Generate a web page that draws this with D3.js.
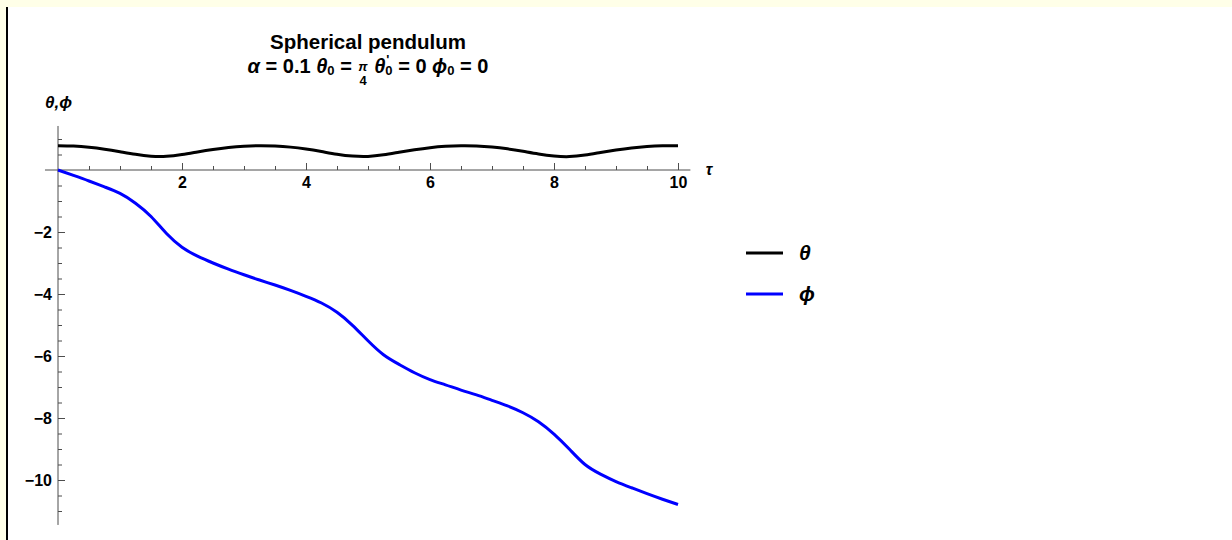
<!DOCTYPE html>
<html>
<head>
<meta charset="utf-8">
<script src="https://cdn.jsdelivr.net/npm/d3@7/dist/d3.min.js"></script>
<style>
  html, body { margin: 0; padding: 0; background: #fff; }
  svg { display: block; }
  text { font-family: "Liberation Sans", Arial, "DejaVu Sans", sans-serif; font-weight: bold; white-space: pre; }
</style>
</head>
<body>
<svg id="chart" width="1232" height="540"></svg>
<script>
// Time samples (tau) and the two angles of the spherical pendulum
const tau = [0, 0.25, 0.5, 0.75, 1, 1.25, 1.5, 1.75, 2, 2.25, 2.5, 2.75, 3, 3.25, 3.5, 3.75,
  4, 4.25, 4.5, 4.75, 5, 5.25, 5.5, 5.75, 6, 6.25, 6.5, 6.75, 7, 7.25, 7.5, 7.75,
  8, 8.25, 8.5, 8.75, 9, 9.25, 9.5, 9.75, 10];
const theta = [0.785, 0.772, 0.735, 0.672, 0.590, 0.505, 0.445, 0.440, 0.497, 0.580, 0.660,
  0.725, 0.768, 0.785, 0.774, 0.738, 0.676, 0.595, 0.510, 0.448, 0.436, 0.490, 0.572,
  0.652, 0.720, 0.765, 0.784, 0.777, 0.742, 0.682, 0.602, 0.517, 0.452, 0.433, 0.483,
  0.565, 0.645, 0.713, 0.760, 0.782, 0.782];
const phi = [0, -0.175, -0.355, -0.545, -0.755, -1.07, -1.50, -2.05, -2.49, -2.78, -3.00,
  -3.20, -3.38, -3.55, -3.71, -3.885, -4.075, -4.29, -4.59, -5.01, -5.51, -5.96, -6.27,
  -6.54, -6.76, -6.93, -7.10, -7.255, -7.43, -7.61, -7.83, -8.12, -8.52, -9.01, -9.50,
  -9.81, -10.05, -10.25, -10.44, -10.62, -10.79];

const xMajor = [2, 4, 6, 8, 10];
const xMinor = [0.5, 1, 1.5, 2.5, 3, 3.5, 4.5, 5, 5.5, 6.5, 7, 7.5, 8.5, 9, 9.5];
const yMajor = [-2, -4, -6, -8, -10];
const yMinor = [1, 0.5, -0.5, -1, -1.5, -2.5, -3, -3.5, -4.5, -5, -5.5, -6.5, -7, -7.5,
  -8.5, -9, -9.5, -10.5, -11];

const seriesNames = ["θ", "ϕ"];
const seriesColors = ["#000000", "#0000ff"];

const svg = d3.select("#chart");
const W = 1232, H = 540;

// notebook cell frame
svg.append("rect").attr("x", 0).attr("y", 0).attr("width", W).attr("height", H).attr("fill", "#ffffff");
svg.append("rect").attr("x", 0).attr("y", 0).attr("width", W).attr("height", 7).attr("fill", "#ffffe8");
svg.append("rect").attr("x", 0).attr("y", 0).attr("width", 6).attr("height", H).attr("fill", "#ffffe8");
svg.append("rect").attr("x", 6).attr("y", 7).attr("width", 2).attr("height", H - 7).attr("fill", "#000");

const x = d3.scaleLinear().domain([0, 10]).range([58, 678]);
const y = d3.scaleLinear().domain([0, -10]).range([170, 480]);

const axisColor = "#4d4d4d";

// axis lines
svg.append("line").attr("x1", x(-0.21)).attr("x2", x(10.2)).attr("y1", y(0)).attr("y2", y(0))
  .attr("stroke", axisColor).attr("stroke-width", 1);
svg.append("line").attr("x1", x(0)).attr("x2", x(0)).attr("y1", y(1.42)).attr("y2", y(-11.45))
  .attr("stroke", axisColor).attr("stroke-width", 1);

function styleAxis(g) {
  g.select(".domain").remove();
  g.selectAll(".tick line").attr("stroke", axisColor);
  g.selectAll(".tick text").attr("fill", "#000").attr("font-size", 16).attr("font-family", null);
}

svg.append("g").attr("transform", `translate(0,${y(0)})`)
  .call(d3.axisBottom(x).tickValues(xMinor).tickSizeInner(-4).tickSizeOuter(0).tickFormat(""))
  .call(styleAxis);
svg.append("g").attr("transform", `translate(0,${y(0)})`)
  .call(d3.axisBottom(x).tickValues(xMajor).tickSizeInner(-7).tickSizeOuter(0).tickPadding(7)
    .tickFormat(d3.format("d")))
  .call(styleAxis);

svg.append("g").attr("transform", `translate(${x(0)},0)`)
  .call(d3.axisLeft(y).tickValues(yMinor).tickSizeInner(-4).tickSizeOuter(0).tickFormat(""))
  .call(styleAxis);
svg.append("g").attr("transform", `translate(${x(0)},0)`)
  .call(d3.axisLeft(y).tickValues(yMajor).tickSizeInner(-7).tickSizeOuter(0).tickPadding(6)
    .tickFormat(d => "\u2212" + Math.abs(d)))
  .call(styleAxis);

// axis labels
svg.append("text").attr("x", 709).attr("y", 175).attr("font-size", 16)
  .attr("font-style", "italic").attr("text-anchor", "middle").text("τ");
svg.append("text").attr("x", 45).attr("y", 108).attr("font-size", 17)
  .attr("font-style", "italic").text("θ,ϕ");

// curves
const line = d3.line().curve(d3.curveNatural);
const series = [theta, phi];
series.forEach((vals, i) => {
  svg.append("path")
    .attr("d", line(tau.map((t, j) => [x(t), y(vals[j])])))
    .attr("fill", "none")
    .attr("stroke", seriesColors[i])
    .attr("stroke-width", 3)
    .attr("stroke-linejoin", "round");
});

// title
const titleCx = 368;
svg.append("text").attr("x", titleCx).attr("y", 49).attr("font-size", 20.5)
  .attr("text-anchor", "middle").text("Spherical pendulum");

// subtitle with subscripts and a stacked fraction
const fs = 20, small = 13;
const sub = svg.append("g");
let cx = 0;
const base = 73;
function piece(str, opts = {}) {
  const t = sub.append("text").attr("x", cx).attr("y", base + (opts.dy || 0))
    .attr("font-size", opts.size || fs).text(str);
  if (opts.italic) t.attr("font-style", "italic");
  const w = t.node().getComputedTextLength();
  cx += w;
  return t;
}
piece("α", { italic: true });
piece(" = 0.1 ");
piece("θ", { italic: true });
piece("0", { size: small, dy: 2 });
piece(" = ");
// fraction π over 4
{
  const start = cx;
  const tp = sub.append("text").attr("y", base - 2).attr("font-size", small)
    .attr("font-style", "italic").text("π");
  const wp = tp.node().getComputedTextLength();
  const t4 = sub.append("text").attr("y", base + 12).attr("font-size", small).text("4");
  const w4 = t4.node().getComputedTextLength();
  const wf = Math.max(wp, w4) + 2;
  tp.attr("x", start + (wf - wp) / 2);
  t4.attr("x", start + (wf - w4) / 2);
  cx += wf;
}
piece(" ");
piece("θ", { italic: true });
// derivative mark stacked over the subscript, in one text element
{
  const start = cx;
  const t = sub.append("text").attr("font-size", small);
  t.append("tspan").attr("x", start + 1).attr("y", base - 9).text("'");
  const z = t.append("tspan").attr("x", start).attr("y", base + 2).text("0");
  cx += z.node().getComputedTextLength();
}
piece(" = 0 ");
piece("ϕ", { italic: true });
piece("0", { size: small, dy: 2 });
piece(" = 0");
sub.attr("transform", `translate(${titleCx - cx / 2},0)`);

// legend
const legendY = [253, 294];
seriesNames.forEach((name, i) => {
  svg.append("line").attr("x1", 746).attr("x2", 783).attr("y1", legendY[i]).attr("y2", legendY[i])
    .attr("stroke", seriesColors[i]).attr("stroke-width", 3);
  svg.append("text").attr("x", 799).attr("y", legendY[i] + 7).attr("font-size", 21)
    .attr("font-style", "italic").text(name);
});
</script>
</body>
</html>
